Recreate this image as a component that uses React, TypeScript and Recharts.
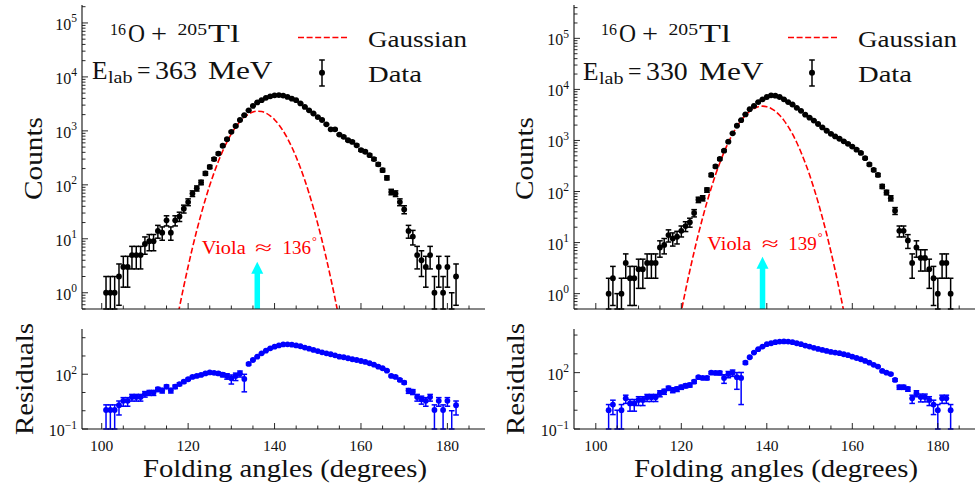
import React from 'react';
import { ComposedChart, Scatter, Line, XAxis, YAxis, ErrorBar, ReferenceLine, Legend } from 'recharts';

const FONT = "'Liberation Serif', 'DejaVu Serif', 'Noto Serif', 'Times New Roman', serif";
const INK = '#111111';
const RED = '#ff0000';
const CYAN = '#00ffff';
const BLUE = '#0000ff';

// ---------------- Left panel: 16O + 205Tl, Elab = 363 MeV ----------------
const startLeft = 101; // folding angle of the first bin (degrees)
const countsLeft = [
  1, 1, 1, 2, 3, 3, 5, 5, 5, 8,
  9, 9, 14, 13, 22, 13, 22, 26, 36, 48,
  69, 86, 111, 163, 215, 300, 380, 530, 700, 960,
  1230, 1590, 1950, 2400, 2900, 3370, 3700, 4100, 4370, 4560,
  4600, 4500, 4260, 3950, 3700, 3230, 2780, 2400, 2100, 1800,
  1590, 1320, 1070, 1070, 855, 775, 670, 625, 540, 440,
  410, 355, 300, 240, 187, 135, 74, 69, 48, 35,
  14, 11, 5, 4, 3, 5, 1, 3, 1, 3,
  0, 2,
];
const residLeft = [
  1.1, 1.1, 1.1, 2, 3.5, 3.5, 5.6, 5.6, 5.6, 8.4,
  9.9, 9.9, 15, 13, 21, 13, 21, 29, 39, 53,
  71, 81, 92, 110, 125, 120, 110, 95, 80, 60,
  80, 110, 55, 365, 600, 910, 1400, 1940, 2630, 3240,
  3800, 4300, 4370, 4170, 3800, 3400, 2900, 2500, 2130, 1860,
  1590, 1400, 1240, 1090, 910, 850, 750, 660, 600, 530,
  470, 400, 335, 260, 212, 157, 81, 71, 49, 35,
  12.7, 11, 5.6, 4.3, 3.5, 5.6, 1.1, 3.5, 1.1, 3.5,
  null, 2,
];
const gaussStartLeft = 117;
const gaussLeft = [
  0.21, 0.54, 1.32, 3.06, 6.8, 14.3, 28.5, 54, 98, 167,
  273, 424, 626, 880, 1172, 1486, 1791, 2053, 2237, 2318,
  2283, 2138, 1903, 1611, 1297, 993, 722, 499, 328, 205,
  122, 69, 37, 18.9, 9.2, 4.25, 1.86, 0.78, 0.31,
];
const violaLeft = 136;
const arrowTipLeft = 3.75;

// ---------------- Right panel: 16O + 205Tl, Elab = 330 MeV ----------------
const startRight = 103;
const countsRight = [
  1, 2, 0, 1, 4, 2, 2, 3,
  3, 4, 4, 4, 8, 9, 14, 12, 13, 17,
  21, 25, 38, 69, 74, 107, 211, 310, 435, 630,
  945, 1380, 1940, 2500, 3240, 4100, 4740, 5650, 6400, 7100,
  7670, 7550, 7100, 6400, 5650, 5060, 4360, 3800, 3200, 2800,
  2450, 2100, 1800, 1550, 1350, 1200, 1080, 960, 860, 760,
  660, 570, 450, 340, 265, 211, 126, 96, 74, 42,
  17, 17, 11, 4, 8, 5, 5, 3, 2, 1,
  4, 4, 1,
];
const residRight = [
  1, 2, null, 1, 4.3, 2.3, 2.3, 3.5,
  3.5, 4.9, 4.9, 4.9, 8, 10, 15, 12, 13.5, 17,
  20, 22, 33, 57, 52, 52, 100, 97, 97, 52,
  84, 100, 57, 52, 340, 660, 1170, 1770, 2430, 3270,
  3670, 4170, 4500, 4600, 4500, 4170, 3670, 3270, 2760, 2430,
  2100, 1830, 1620, 1430, 1270, 1170, 1080, 950, 850, 710,
  600, 515, 420, 340, 260, 210, 123, 100, 84, 41,
  17, 17, 13.5, 4.3, 8, 5, 5, 3.5, 2, 1,
  4.3, 4.3, 1,
];
const gaussStartRight = 119;
const gaussRight = [
  0.165, 0.45, 1.16, 2.84, 6.6, 14.7, 30.8, 62, 117, 212,
  362, 588, 911, 1339, 1868, 2476, 3119, 3732, 4241, 4581,
  4700, 4581, 4241, 3732, 3119, 2476, 1868, 1339, 911, 588,
  362, 212, 117, 62, 30.8, 14.7, 6.6, 2.84, 1.16, 0.45, 0.165,
];
const violaRight = 139;
const arrowTipRight = 5.3;

// ---------------- ticks ----------------
const xMajorTicks = [100, 120, 140, 160, 180];
const xAllTicks = [100, 105, 110, 115, 120, 125, 130, 135, 140, 145, 150, 155, 160, 165, 170, 175, 180, 185];
const countMajorTicks = [1, 10, 100, 1000, 10000, 100000];
const residMajorTicks = [0.1, 100];
const residAllTicks = [0.1, 1, 10, 100, 1000, 10000];

function logMinorTicks(lo: number, hi: number): number[] {
  const out: number[] = [];
  for (let e = -2; e <= 6; e++) {
    for (let m = 1; m <= 9; m++) {
      const v = +(m * Math.pow(10, e)).toPrecision(6);
      if (v >= lo && v <= hi) out.push(v);
    }
  }
  return out;
}

// Poisson error bars; lower ends are stopped at the bottom of the axis (log scale)
function buildPoints(start: number, values: (number | null)[], counts: number[], dmin: number) {
  return values.map((v, i) => {
    const c = counts[i];
    const zero = !(v != null && v > 0);
    const y = zero ? dmin : (v as number);
    const e = c > 0 ? Math.sqrt(c) : 1;
    const lo = zero ? 0 : Math.min(e, y - dmin);
    const hi = zero ? 1 - dmin : e;
    return { x: start + i, y, zero, err: [lo, hi] };
  });
}
function buildCurve(start: number, values: number[]) {
  return values.map((v, i) => ({ x: start + i, y: v }));
}

const MAJOR_LEN = 6;
const MINOR_LEN = 3.5;
const AXIS_LINE = { stroke: INK, strokeWidth: 1.1 };
const fontStyle = { fontFamily: FONT };
const DOT_R = 2.9;
const CAP = 2.8;

const bottomTick = (showLabel: boolean) => (p: any) => {
  const v = p.payload.value;
  const major = xMajorTicks.includes(v);
  return (
    <g>
      <line x1={p.x} x2={p.x} y1={p.y} y2={p.y - (major ? MAJOR_LEN : MINOR_LEN)} stroke={INK} strokeWidth={0.9} />
      {showLabel && major && (
        <text x={p.x} y={p.y + 21.5} textAnchor="middle" style={fontStyle} fontSize={15.5} fill={INK}>{v}</text>
      )}
    </g>
  );
};
const topTick = (p: any) => {
  const v = p.payload.value;
  const major = xMajorTicks.includes(v);
  return <line x1={p.x} x2={p.x} y1={p.y} y2={p.y + (major ? MAJOR_LEN : MINOR_LEN)} stroke={INK} strokeWidth={0.9} />;
};
const expOf = (v: number) => {
  const e = Math.round(Math.log10(v));
  return e < 0 ? `\u2212${-e}` : `${e}`;
};
const near = (a: number, b: number) => Math.abs(a - b) < 1e-9 * Math.max(a, b);
const leftTick = (majors: number[]) => (p: any) => {
  const v = p.payload.value;
  const major = majors.some((m) => near(m, v));
  return (
    <g>
      <line x1={p.x} x2={p.x + (major ? MAJOR_LEN : MINOR_LEN)} y1={p.y} y2={p.y} stroke={INK} strokeWidth={0.9} />
      {major && (
        <text x={p.x - 5} y={p.y + 7} textAnchor="end" style={fontStyle} fontSize={16} fill={INK}>
          <tspan>10</tspan>
          <tspan dy={-7.5} fontSize={11.5}>{expOf(v)}</tspan>
        </text>
      )}
    </g>
  );
};
const rightTick = (majors: number[]) => (p: any) => {
  const v = p.payload.value;
  const major = majors.some((m) => near(m, v));
  return <line x1={p.x} x2={p.x - (major ? MAJOR_LEN : MINOR_LEN)} y1={p.y} y2={p.y} stroke={INK} strokeWidth={0.9} />;
};

const dotShape = (color: string) => (p: any) =>
  p.payload && p.payload.zero ? <g /> : <circle cx={p.cx} cy={p.cy} r={DOT_R} fill={color} />;

const arrowShape = (p: any) => {
  const { x1, y1, x2, y2 } = p;
  const headH = 12;
  const headW = 12;
  const shaftW = 5.5;
  return (
    <g>
      <rect x={x1 - shaftW / 2} y={y2 + headH - 1} width={shaftW} height={Math.max(0, y1 - y2 - headH + 1)} fill={CYAN} />
      <polygon points={`${x2},${y2} ${x2 - headW / 2},${y2 + headH} ${x2 + headW / 2},${y2 + headH}`} fill={CYAN} />
    </g>
  );
};

const legendContent = () => (
  <svg width={200} height={80} style={{ display: 'block', overflow: 'visible' }}>
    <line x1={8} x2={57} y1={22.5} y2={22.5} stroke={RED} strokeWidth={1.6} strokeDasharray="6 2.6" />
    <text x={78} y={32} style={fontStyle} fontSize={24} fill={INK} textLength={99} lengthAdjust="spacingAndGlyphs">Gaussian</text>
    <line x1={32} x2={32} y1={45} y2={71} stroke="#000" strokeWidth={1.5} />
    <line x1={29.2} x2={34.8} y1={45} y2={45} stroke="#000" strokeWidth={1.5} />
    <line x1={29.2} x2={34.8} y1={71} y2={71} stroke="#000" strokeWidth={1.5} />
    <circle cx={32} cy={57.7} r={3} fill="#000" />
    <text x={78} y={67} style={fontStyle} fontSize={24} fill={INK} textLength={54} lengthAdjust="spacingAndGlyphs">Data</text>
  </svg>
);

type TopProps = {
  start: number; counts: number[]; gStart: number; gauss: number[];
  xDomain: [number, number]; yDomain: [number, number]; viola: number; tip: number;
  width: number; yAxisWidth: number; marginRight: number;
};

function TopPlot(props: TopProps) {
  const { start, counts, gStart, gauss, xDomain, yDomain, viola, tip, width, yAxisWidth, marginRight } = props;
  const pts = buildPoints(start, counts, counts, yDomain[0]);
  const curve = buildCurve(gStart, gauss);
  const yTicks = logMinorTicks(yDomain[0], yDomain[1]);
  return (
    <ComposedChart width={width} height={320} margin={{ top: 5, right: marginRight, bottom: 0, left: 0 }}>
      <XAxis xAxisId="b" type="number" dataKey="x" domain={xDomain} allowDataOverflow ticks={xAllTicks} interval={0}
        tickSize={0} tickMargin={0} tickLine={false} axisLine={AXIS_LINE} tick={bottomTick(false)} height={11} />
      <XAxis xAxisId="t" orientation="top" type="number" domain={xDomain} allowDataOverflow ticks={xAllTicks} interval={0}
        tickSize={0} tickMargin={0} tickLine={false} axisLine={AXIS_LINE} tick={topTick} height={0} />
      <YAxis yAxisId="l" type="number" dataKey="y" scale="log" domain={yDomain} allowDataOverflow ticks={yTicks} interval={0}
        tickSize={0} tickMargin={0} tickLine={false} axisLine={AXIS_LINE} tick={leftTick(countMajorTicks)} width={yAxisWidth} />
      <YAxis yAxisId="r" orientation="right" type="number" scale="log" domain={yDomain} allowDataOverflow ticks={yTicks} interval={0}
        tickSize={0} tickMargin={0} tickLine={false} axisLine={AXIS_LINE} tick={rightTick(countMajorTicks)} width={0} />
      <Line xAxisId="b" yAxisId="l" data={curve} dataKey="y" type="monotone" stroke={RED} strokeWidth={1.6}
        strokeDasharray="6 2.6" dot={false} activeDot={false} isAnimationActive={false} />
      <Scatter xAxisId="b" yAxisId="l" data={pts} fill="#000" shape={dotShape('#000')} isAnimationActive={false}>
        <ErrorBar dataKey="err" direction="y" width={CAP} stroke="#000" strokeWidth={1.5} isAnimationActive={false} />
      </Scatter>
      <ReferenceLine xAxisId="b" yAxisId="l" segment={[{ x: viola, y: yDomain[0] }, { x: viola, y: tip }]}
        ifOverflow="visible" shape={arrowShape} />
      <Legend layout="vertical" align="center" verticalAlign="middle" content={legendContent}
        wrapperStyle={{ left: 290, top: 15, width: 200, height: 80 }} />
    </ComposedChart>
  );
}

type ResProps = {
  start: number; resid: (number | null)[]; counts: number[];
  xDomain: [number, number]; yDomain: [number, number];
  width: number; yAxisWidth: number; marginRight: number;
};

function ResidualPlot(props: ResProps) {
  const { start, resid, counts, xDomain, yDomain, width, yAxisWidth, marginRight } = props;
  const pts = buildPoints(start, resid, counts, yDomain[0]);
  return (
    <ComposedChart width={width} height={170} margin={{ top: 9, right: marginRight, bottom: 0, left: 0 }}>
      <XAxis xAxisId="b" type="number" dataKey="x" domain={xDomain} allowDataOverflow ticks={xAllTicks} interval={0}
        tickSize={0} tickMargin={0} tickLine={false} axisLine={AXIS_LINE} tick={bottomTick(true)} height={61} />
      <XAxis xAxisId="t" orientation="top" type="number" domain={xDomain} allowDataOverflow ticks={xAllTicks} interval={0}
        tickSize={0} tickMargin={0} tickLine={false} axisLine={AXIS_LINE} tick={topTick} height={0} />
      <YAxis yAxisId="l" type="number" dataKey="y" scale="log" domain={yDomain} allowDataOverflow ticks={residAllTicks} interval={0}
        tickSize={0} tickMargin={0} tickLine={false} axisLine={AXIS_LINE} tick={leftTick(residMajorTicks)} width={yAxisWidth} />
      <YAxis yAxisId="r" orientation="right" type="number" scale="log" domain={yDomain} allowDataOverflow ticks={residAllTicks} interval={0}
        tickSize={0} tickMargin={0} tickLine={false} axisLine={AXIS_LINE} tick={rightTick(residMajorTicks)} width={0} />
      <Scatter xAxisId="b" yAxisId="l" data={pts} fill={BLUE} shape={dotShape(BLUE)} isAnimationActive={false}>
        <ErrorBar dataKey="err" direction="y" width={CAP} stroke={BLUE} strokeWidth={1.5} isAnimationActive={false} />
      </Scatter>
    </ComposedChart>
  );
}

type TxtProps = { x: number; y: number; w: number; size: number; children: React.ReactNode; anchor?: string; fill?: string; rotate?: boolean };
function Txt({ x, y, w, size, children, anchor = 'start', fill = INK, rotate = false }: TxtProps) {
  return (
    <text x={x} y={y} fontSize={size} style={fontStyle} fill={fill} textAnchor={anchor as any}
      textLength={w} lengthAdjust="spacingAndGlyphs" transform={rotate ? `rotate(-90 ${x} ${y})` : undefined}>
      {children}
    </text>
  );
}

function PanelTexts(props: { dx: number; energy: string; eBase: number; viola: string; v: number[]; vBase: number; energyW: number }) {
  const { dx, energy, eBase, viola, v, vBase, energyW } = props;
  return (
    <g>
      {/* title */}
      <Txt x={110 + dx} y={35} w={16} size={17}>16</Txt>
      <Txt x={128 + dx} y={42} w={17} size={25}>O</Txt>
      <Txt x={151 + dx} y={42} w={16} size={25}>+</Txt>
      <Txt x={177.5 + dx} y={35} w={29.5} size={17}>205</Txt>
      <Txt x={208 + dx} y={42} w={32} size={25}>Tl</Txt>
      {/* energy */}
      <Txt x={92 + dx} y={eBase} w={15.5} size={25}>E</Txt>
      <Txt x={108 + dx} y={eBase + 4} w={24.5} size={16}>lab</Txt>
      <Txt x={137 + dx} y={eBase} w={13.5} size={25}>=</Txt>
      <Txt x={155 + dx} y={eBase} w={energyW} size={25}>{energy}</Txt>
      <Txt x={208 + dx} y={eBase} w={64.5} size={25}>MeV</Txt>
      {/* viola annotation */}
      <Txt x={v[0]} y={vBase} w={44} size={19} fill={RED}>Viola</Txt>
      <Txt x={v[1]} y={vBase} w={17} size={19} fill={RED}>{'\u2248'}</Txt>
      <text x={v[2]} y={vBase} fontSize={19} style={fontStyle} fill={RED}>
        {viola}
        <tspan dx={1} dy={-9} fontSize={12}>{'\u00b0'}</tspan>
      </text>
      {/* axis titles */}
      <Txt x={41.7 + dx} y={158.5} w={83} size={25} anchor="middle" rotate>Counts</Txt>
      <Txt x={33.3 + dx} y={379} w={112} size={25} anchor="middle" rotate>Residuals</Txt>
      <Txt x={143 + dx} y={477} w={284} size={25}>Folding angles (degrees)</Txt>
    </g>
  );
}

export default function App() {
  const xDomL: [number, number] = [95.44, 188.7];
  const xDomR: [number, number] = [94.9, 188.7];
  return (
    <div style={{ position: 'absolute', left: 0, top: 0, width: 976, height: 490, background: '#fff', overflow: 'hidden' }}>
      <div style={{ position: 'absolute', left: 0, top: 0 }}>
        <TopPlot start={startLeft} counts={countsLeft} gStart={gaussStartLeft} gauss={gaussLeft}
          xDomain={xDomL} yDomain={[0.5, 2.15e5]} viola={violaLeft} tip={arrowTipLeft}
          width={490} yAxisWidth={82} marginRight={5} />
      </div>
      <div style={{ position: 'absolute', left: 0, top: 320 }}>
        <ResidualPlot start={startLeft} resid={residLeft} counts={countsLeft}
          xDomain={xDomL} yDomain={[0.1, 3e4]} width={490} yAxisWidth={82} marginRight={5} />
      </div>
      <div style={{ position: 'absolute', left: 490, top: 0 }}>
        <TopPlot start={startRight} counts={countsRight} gStart={gaussStartRight} gauss={gaussRight}
          xDomain={xDomR} yDomain={[0.5, 4.5e5]} viola={violaRight} tip={arrowTipRight}
          width={486} yAxisWidth={84} marginRight={1} />
      </div>
      <div style={{ position: 'absolute', left: 490, top: 320 }}>
        <ResidualPlot start={startRight} resid={residRight} counts={countsRight}
          xDomain={xDomR} yDomain={[0.1, 2.1e4]} width={486} yAxisWidth={84} marginRight={1} />
      </div>
      <svg width={976} height={490} style={{ position: 'absolute', left: 0, top: 0, pointerEvents: 'none', zIndex: 5 }}>
        <PanelTexts dx={0} energy="363" eBase={78.5} energyW={42} viola="136" v={[201.7, 255, 282.5]} vBase={254} />
        <PanelTexts dx={491} energy="330" eBase={79.5} energyW={41.7} viola="139" v={[707.3, 761.7, 788.3]} vBase={250} />
      </svg>
    </div>
  );
}
